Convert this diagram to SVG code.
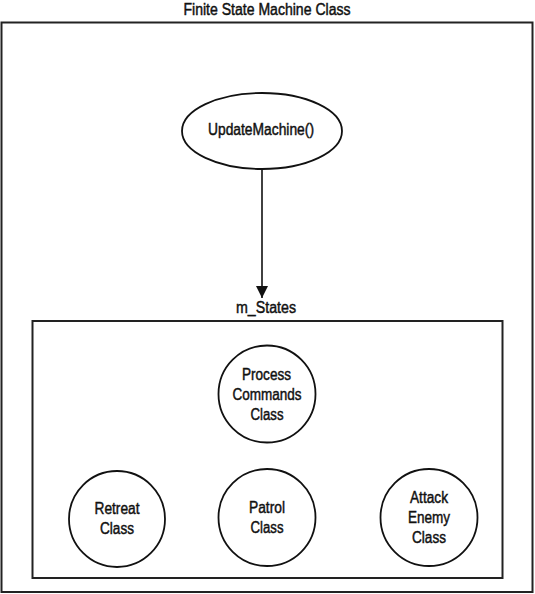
<svg xmlns="http://www.w3.org/2000/svg" width="535" height="594" viewBox="0 0 535 594">
<style>
text{font-family:"Liberation Sans","Noto Sans",sans-serif;font-size:16px;fill:#111;stroke:#111;stroke-width:0.45;text-anchor:middle}
.box{fill:none;stroke:#222;stroke-width:2}
.node{fill:#fff;stroke:#111;stroke-width:1.8}
.edge{fill:none;stroke:#111;stroke-width:1.6}
</style>
<defs>
<marker id="arrow" markerWidth="12" markerHeight="14" refX="12" refY="7" orient="auto" markerUnits="userSpaceOnUse">
<path d="M0,1 L12,7 L0,13 Z" fill="#111"/>
</marker>
</defs>
<rect width="535" height="594" fill="#fff"/>
<g id="fsm">
<rect class="box" x="1.5" y="22.5" width="531" height="569.5"/>
<text x="267" y="14.5" font-size="15" textLength="167" lengthAdjust="spacingAndGlyphs">Finite State Machine Class</text>
</g>
<g id="m_States">
<rect class="box" x="32.5" y="321" width="470" height="257"/>
<text x="266" y="313" textLength="60" lengthAdjust="spacingAndGlyphs">m_States</text>
</g>
<g id="connectors">
<line class="edge" x1="262" y1="169" x2="262" y2="298" marker-end="url(#arrow)"/>
</g>
<g id="updateMachine">
<ellipse class="node" cx="262" cy="131" rx="80" ry="38"/>
<text x="261" y="135" textLength="106" lengthAdjust="spacingAndGlyphs">UpdateMachine()</text>
</g>
<g id="processCommands">
<circle class="node" cx="267" cy="394" r="48.5"/>
<text x="266.5" y="380" textLength="49" lengthAdjust="spacingAndGlyphs">Process</text>
<text x="267" y="400" textLength="69" lengthAdjust="spacingAndGlyphs">Commands</text>
<text x="267" y="419.5" textLength="33" lengthAdjust="spacingAndGlyphs">Class</text>
</g>
<g id="retreat">
<circle class="node" cx="117" cy="519" r="48"/>
<text x="117" y="514" textLength="45" lengthAdjust="spacingAndGlyphs">Retreat</text>
<text x="117" y="533.5" textLength="34" lengthAdjust="spacingAndGlyphs">Class</text>
</g>
<g id="patrol">
<circle class="node" cx="267" cy="517.5" r="48.5"/>
<text x="267" y="513" textLength="36" lengthAdjust="spacingAndGlyphs">Patrol</text>
<text x="267" y="533" textLength="33" lengthAdjust="spacingAndGlyphs">Class</text>
</g>
<g id="attackEnemy">
<circle class="node" cx="429" cy="517.5" r="48.5"/>
<text x="429" y="503" textLength="38" lengthAdjust="spacingAndGlyphs">Attack</text>
<text x="429" y="522.5" textLength="42" lengthAdjust="spacingAndGlyphs">Enemy</text>
<text x="429" y="542.5" textLength="34" lengthAdjust="spacingAndGlyphs">Class</text>
</g>
</svg>
